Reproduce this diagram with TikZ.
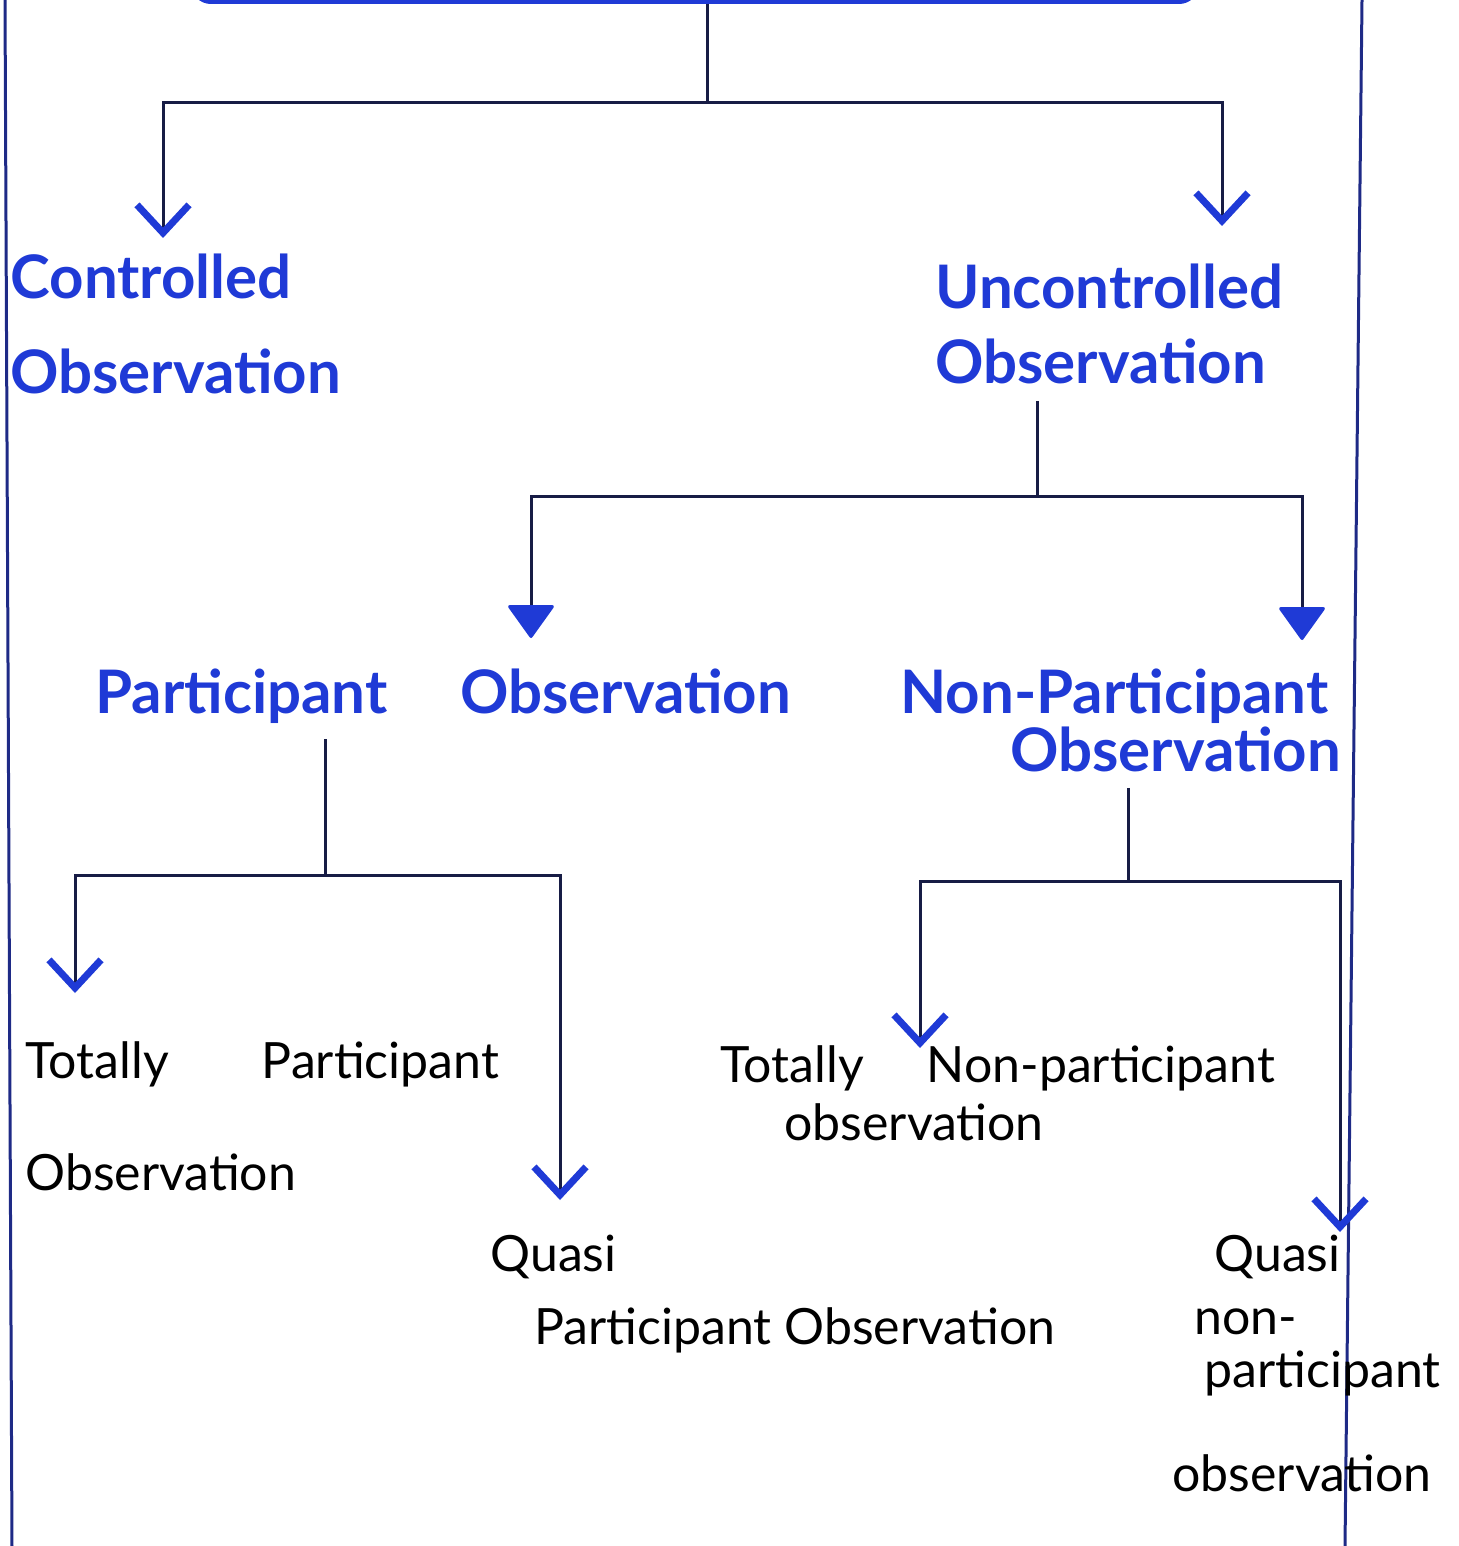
\documentclass[tikz,border=0pt]{standalone}
\usepackage{fontspec}
\setmainfont{Lato}
\usepackage{xcolor}
\definecolor{inkblue}{HTML}{1F3AD6}
\definecolor{inknavy}{HTML}{171C45}
\definecolor{framenavy}{HTML}{1E2A86}
\usetikzlibrary{arrows.meta, calc}

\newcommand{\headsize}{\fontsize{30}{36}\selectfont\bfseries}
\newcommand{\leafsize}{\fontsize{25}{31}\selectfont}

\begin{document}
\begin{tikzpicture}[
  x=0.5pt, y=-0.5pt,
  head/.style={anchor=north west, inner xsep=0pt, inner ysep=8pt,
               align=left, font=\headsize, text=inkblue},
  leaf/.style={anchor=north west, inner xsep=0pt, inner ysep=8pt,
               align=left, font=\leafsize, text=black},
  line/.style={draw=inknavy, line width=1.5pt},
  frame/.style={draw=framenavy, line width=1.5pt},
  vee/.style={line, -{Straight Barb[length=14pt, width=26pt,
              line width=3.5pt, color=inkblue]}},
  tri/.style={line, -{Triangle[length=17pt, width=24pt, round,
              color=inkblue]}},
  rootbox/.style={draw=inkblue, line width=4pt, rounded corners=8pt,
              minimum width=500pt, minimum height=60pt}
]
  \useasboundingbox (0,0) rectangle (1458,1546);
  \clip (0,0) rectangle (1458,1546);

  % page frame
  \draw[frame] (5,0) -- (12,1546);
  \draw[frame] (1362,0) -- (1345,1546);

  % root box, cut off at the top
  \node[rootbox, anchor=south] (root) at (695,4) {};

  % labels
  \node[head] (ctrl)   at (10,238)  {Controlled\\[11.5pt]Observation};
  \node[head] (unctrl) at (935,248) {Uncontrolled\\[1.5pt]Observation};
  \node[head] (part)   at (95,652)  {Participant\hspace{29pt} Observation};
  \node[head] (nonpart) at (900,652)
    {Non-Participant\\[-7pt]\hspace*{55pt}Observation};

  \node[leaf] (tp)  at (25,1025)
    {Totally\hspace{40pt} Participant\\[25pt]Observation};
  \node[leaf] (qp)  at (490,1219)
    {Quasi\\[5.5pt]\hspace*{22pt}Participant Observation};
  \node[leaf] (tnp) at (720,1029)
    {Totally\hspace{25pt} Non-participant\\[-2pt]\hspace*{32pt}observation};
  \node[leaf] (qnp) at (1172,1219)
    {\hspace*{21pt}Quasi\\[0.5pt]\hspace*{11pt}non-\\[-4.5pt]%
     \hspace*{16pt}participant\\[21pt]observation};

  % first split
  \coordinate (j1) at (707,103);
  \coordinate (c1) at (163,103);
  \coordinate (c2) at (1222,103);
  \draw[line] (j1 |- root.south) -- (j1);
  \draw[vee] (j1) -- (c1) -- (c1 |- ctrl.north);
  \draw[vee, shorten >=11pt] (j1) -- (c2) -- (c2 |- unctrl.north);

  % uncontrolled
  \coordinate (j2) at (1037,496);
  \coordinate (c3) at (531,496);
  \coordinate (c4) at (1302,496);
  \draw[line] (j2 |- unctrl.south) -- (j2);
  \draw[tri, shorten >=7pt] (j2) -- (c3) -- (c3 |- part.north);
  \draw[tri, shorten >=6pt] (j2) -- (c4) -- (c4 |- nonpart.north);

  % participant
  \coordinate (j3) at (325,875);
  \coordinate (c5) at (75,875);
  \coordinate (c6) at (560,875);
  \draw[line] (j3 |- part.south) -- (j3);
  \draw[vee, shorten >=16pt] (j3) -- (c5) -- (c5 |- tp.north);
  \draw[vee, shorten >=9.5pt] (j3) -- (c6) -- (c6 |- qp.north);

  % non-participant
  \coordinate (j4) at (1128,881);
  \coordinate (c7) at (920,881);
  \coordinate (c8) at (1340,881);
  \draw[line] (j4 |- nonpart.south) -- (j4);
  \draw[vee, shorten >=-9.5pt] (j4) -- (c7) -- (c7 |- tnp.north);
  \draw[vee, shorten >=-6.5pt] (j4) -- (c8) -- (c8 |- qnp.north);
\end{tikzpicture}
\end{document}
